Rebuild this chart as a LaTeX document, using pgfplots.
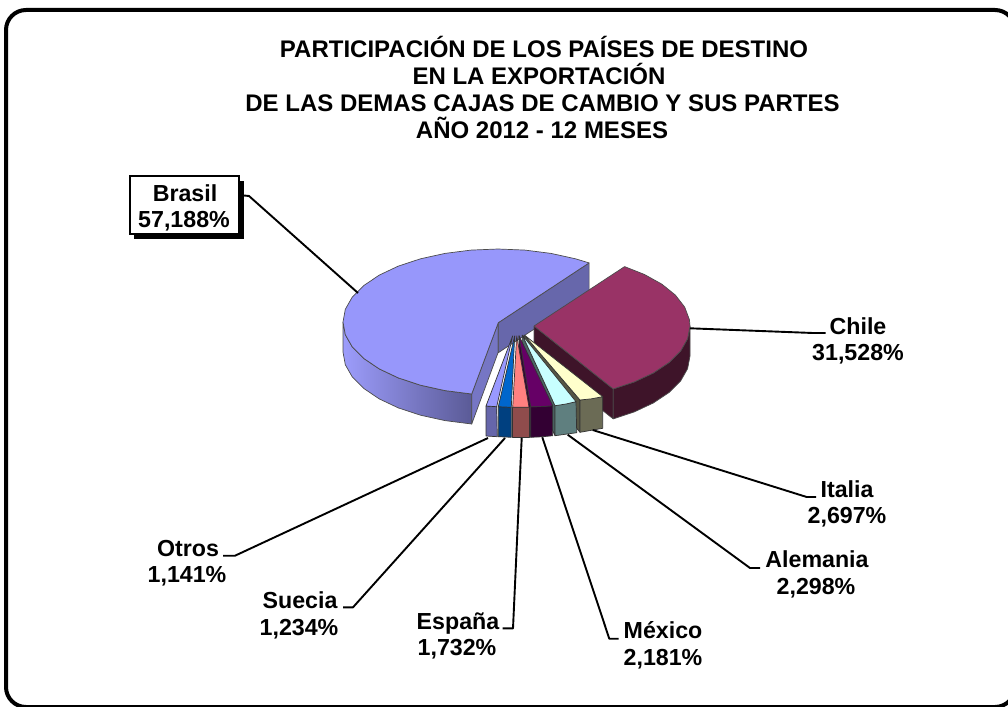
\documentclass[border=0pt]{standalone}
\usepackage{fontspec}
\setmainfont{Liberation Sans}
\usepackage{pgfplots}
\pgfplotsset{compat=1.18}

\definecolor{brasilT}{HTML}{9797FB}
\definecolor{chileT}{HTML}{993366}
\definecolor{chileS}{HTML}{3E1429}
\definecolor{italT}{HTML}{FFFFCC}
\definecolor{italS}{HTML}{6B6B55}
\definecolor{alemT}{HTML}{C8FFFF}
\definecolor{alemS}{HTML}{5F7F7F}
\definecolor{mexT}{HTML}{660066}
\definecolor{mexS}{HTML}{330033}
\definecolor{espT}{HTML}{FF8080}
\definecolor{espS}{HTML}{8F4C4C}
\definecolor{sueT}{HTML}{0066CC}
\definecolor{sueS}{HTML}{004080}
\definecolor{otrT}{HTML}{9999FF}
\definecolor{otrS}{HTML}{6666AA}

\newcommand{\lab}[3]{\node[anchor=base,inner sep=0pt,font=\fontsize{23.2}{26}\selectfont\bfseries] at (axis cs:#1,#2) {#3};}
\newcommand{\tit}[3]{\node[anchor=base,inner sep=0pt,font=\fontsize{24}{26}\selectfont\bfseries] at (axis cs:#1,#2) {#3};}

\begin{document}
\begin{tikzpicture}
\useasboundingbox (0,0) rectangle (1008pt,706pt);
\begin{axis}[
  at={(0,0)}, anchor=south west, scale only axis,
  width=1008pt, height=706pt,
  xmin=0, xmax=1008, ymin=0, ymax=706, y dir=reverse,
  hide axis, clip=false,
  every axis plot/.append style={line join=round, line width=0.7pt},
]
% frame
\draw[line width=4pt, rounded corners=20pt] (axis cs:6,10) rectangle (axis cs:1015,707);

% Brasil
\addplot[left color=brasilT!95!white, middle color=brasilT!80!black, right color=brasilT!60!black, draw=black!70] coordinates {
  (343,322) (345.3,334.7) (352.3,347) (363.8,358.5) (379.3,368.9) (398.3,377.9) (420.5,385.2) (445,390.6) (471.7,394)
  (471.7,424) (445,420.6) (420.5,415.2) (398.3,407.9) (379.3,398.9) (363.8,388.5) (352.3,377) (345.3,364.7) (343,352) (343,322)};
\addplot[fill=brasilT!78!black, draw=black!70] coordinates {(498.3,322.7) (471.7,394) (471.7,424) (498.3,352) (498.3,322.7)};
\addplot[fill=brasilT!68!black, draw=black!70] coordinates {(498.3,322.7) (589.1,262.9) (589.1,292.9) (498.3,352.7) (498.3,322.7)};
\addplot[fill=brasilT, draw=black!70] coordinates {
  (498.3,322.7) (589.1,262.9) (575.5,258.8) (551,253.4) (525,250.1) (498,249) (471,250.1) (445,253.4) (420.5,258.8)
  (398.3,266.1) (379.3,275.1) (363.8,285.5) (352.3,297) (345.3,309.3) (343,322) (345.3,334.7) (352.3,347) (363.8,358.5)
  (379.3,368.9) (398.3,377.9) (420.5,385.2) (445,390.6) (471.7,394) (498.3,322.7)};

% Chile
\addplot[fill=chileS, draw=black!70] coordinates {(534,326) (613.2,388.9) (613.2,418.9) (534,356) (534,326)};
\addplot[fill=chileS, draw=black!70] coordinates {
  (690,326) (687.6,338.7) (680.6,351) (669.1,362.5) (653.5,372.9) (634.3,381.9) (613.2,388.9)
  (613.2,418.9) (634.3,411.9) (653.5,402.9) (669.1,392.5) (680.6,381) (687.6,368.7) (690,356) (690,326)};
\addplot[fill=chileT, draw=black!70] coordinates {
  (534,326) (624.6,266.6) (644.3,274.4) (661.8,284.1) (675.4,295.1) (684.7,307.1) (689.4,319.6) (690,326)
  (687.6,338.7) (680.6,351) (669.1,362.5) (653.5,372.9) (634.3,381.9) (613.2,388.9) (534,326)};

% Italia
\addplot[fill=italS!80!black, draw=black!80] coordinates {(524.3,335) (580,400) (580,432.3) (524.3,365) (524.3,335)};
\addplot[fill=italS, draw=black!80] coordinates {(580,400) (602.7,396.7) (602.7,428.3) (580,432.3) (580,400)};
\addplot[fill=italT, draw=black!80] coordinates {(524.3,335) (602.7,396.7) (591.5,398.8) (580,400) (524.3,335)};
% Alemania
\addplot[fill=alemS!80!black, draw=black!80] coordinates {(522.3,335) (555,405.7) (555,435.7) (522.3,365) (522.3,335)};
\addplot[fill=alemS, draw=black!80] coordinates {(555,405.7) (576,401.7) (576.7,432.7) (555,435.7) (555,405.7)};
\addplot[fill=alemT, draw=black!80] coordinates {(522.3,335) (576,401.7) (566,404) (555,405.7) (522.3,335)};
% Mexico
\addplot[fill=mexS, draw=black!80] coordinates {(519,335.7) (530.7,406.7) (530.7,437.3) (519,365) (519,335.7)};
\addplot[fill=mexS, draw=black!80] coordinates {(530.7,406.7) (541.7,406.6) (552.7,405.7) (552.7,435.7) (541.7,436.8) (530.7,437.3) (530.7,406.7)};
\addplot[fill=mexT, draw=black!80] coordinates {(519,335.7) (552.7,405.7) (541.7,406.6) (530.7,406.7) (519,335.7)};
% Otros
\addplot[fill=otrS, draw=black!80] coordinates {(486,406) (496.7,406.7) (497.3,436.7) (486,436) (486,406)};
\addplot[fill=otrT, draw=black!80] coordinates {(512.7,335.7) (496.7,406.7) (486,406) (512.7,335.7)};
% Suecia
\addplot[fill=sueS, draw=black!80] coordinates {(498.3,406.7) (511.3,407.3) (511.3,437.3) (498.3,436.7) (498.3,406.7)};
\addplot[fill=sueT, draw=black!80] coordinates {(514.7,335.7) (511.3,407.3) (498.3,406.7) (514.7,335.7)};
% Espana
\addplot[fill=espS, draw=black!80] coordinates {(512.7,407.3) (529,407.3) (529,437.3) (512.7,437.3) (512.7,407.3)};
\addplot[fill=espT, draw=black!80] coordinates {(516.7,335.7) (529,407.3) (512.7,407.3) (516.7,335.7)};

% leader lines
\addplot[black, line width=1.9pt] coordinates {(239,195) (249,196) (358,293)};
\addplot[black, line width=1.9pt] coordinates {(690,328.3) (813,333) (825.7,333)};
\addplot[black, line width=1.9pt] coordinates {(592.7,430) (806.7,497) (816,497)};
\addplot[black, line width=1.9pt] coordinates {(567.7,434.7) (750,568) (760,568)};
\addplot[black, line width=1.9pt] coordinates {(542.3,437.3) (609.3,638.7) (618.7,638.7)};
\addplot[black, line width=1.9pt] coordinates {(521.7,438) (513,628.3) (502.7,628.3)};
\addplot[black, line width=1.9pt] coordinates {(505,438) (353,607.3) (343,607.3)};
\addplot[black, line width=1.9pt] coordinates {(488,438) (235,555.7) (223,555.7)};

% Brasil label box
\fill[black] (axis cs:134,181) rectangle (axis cs:244,239);
\draw[black, fill=white, line width=1.5pt] (axis cs:130,176) rectangle (axis cs:239,234);

% labels
\lab{185}{201}{Brasil}
\lab{184}{227.7}{57,188\%}
\lab{858}{334}{Chile}
\lab{858}{360.7}{31,528\%}
\lab{847}{497}{Italia}
\lab{847}{523}{2,697\%}
\lab{817}{567.7}{Alemania}
\lab{816}{594}{2,298\%}
\lab{663}{638}{México}
\lab{663}{665}{2,181\%}
\lab{458}{629}{España}
\lab{457}{655}{1,732\%}
\lab{300}{608}{Suecia}
\lab{299}{635}{1,234\%}
\lab{188}{556}{Otros}
\lab{187}{582.7}{1,141\%}

% title
\tit{544}{58}{PARTICIPACIÓN DE LOS PAÍSES DE DESTINO}
\tit{539}{85}{EN LA EXPORTACIÓN}
\tit{542.5}{111}{DE LAS DEMAS CAJAS DE CAMBIO Y SUS PARTES}
\tit{542}{138}{AÑO 2012 - 12 MESES}
\end{axis}
\end{tikzpicture}
\end{document}
